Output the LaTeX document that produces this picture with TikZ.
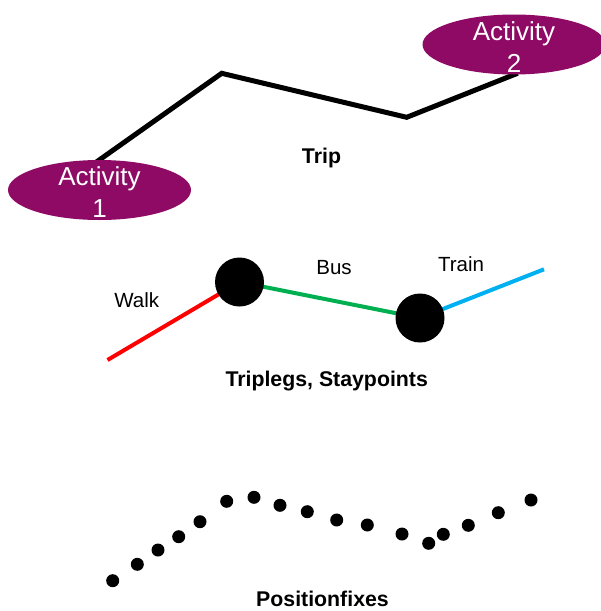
\documentclass[tikz,border=0pt]{standalone}
\usepackage{fontspec}
\setmainfont{Liberation Sans}
\usetikzlibrary{shapes.geometric,backgrounds}

\definecolor{plum}{RGB}{142,10,100}
\definecolor{walkred}{RGB}{255,0,0}
\definecolor{busgreen}{RGB}{0,176,80}
\definecolor{trainblue}{RGB}{0,176,240}

\tikzset{
  activity/.style={ellipse, fill=plum, minimum width=183pt, minimum height=60pt, inner sep=0pt},
  acttext/.style={text=white, align=center, font=\fontsize{26}{31.5}\selectfont, inner sep=0pt},
  tripline/.style={line width=5pt, line join=miter},
  leg/.style={line width=4pt},
  staypoint/.style={circle, fill=black, minimum size=49pt, inner sep=0pt},
  fix/.style={circle, fill=black, minimum size=13pt, inner sep=0pt},
  caption/.style={font=\fontsize{21.3}{25}\selectfont\bfseries, anchor=base, inner sep=0pt},
  modelabel/.style={font=\fontsize{20.5}{24}\selectfont, anchor=base, inner sep=0pt},
}

\begin{document}
\begin{tikzpicture}[x=1pt, y=-1pt]
  \useasboundingbox (0,0) rectangle (601,611);

  % --- Trip: two activities joined by a polyline
  \node[activity] (a1) at (99.5,190) {};
  \node[acttext] (a1t) at (99.5,192) {Activity\\1};
  \node[activity] (a2) at (514,44.5) {};
  \node[acttext] (a2t) at (514,46.9) {Activity\\2};
  \coordinate (t1) at (221.7,73.3);
  \coordinate (t2) at (406.7,117.3);
  \begin{pgfonlayer}{background}
    \draw[tripline, shorten <=-4pt, shorten >=-4pt] (a1.north) -- (t1) -- (t2) -- (a2.south);
  \end{pgfonlayer}
  \node[caption] (trip) at (321.5,163.5) {Trip};

  % --- Triplegs and staypoints
  \node[staypoint] (s1) at (239.5,282) {};
  \node[staypoint] (s2) at (420,318) {};
  \coordinate (w0) at (107.5,360);
  \coordinate (r1) at (544,269.3);
  \begin{pgfonlayer}{background}
    \draw[leg, walkred] (w0) -- (s1.center);
    \draw[leg, busgreen] (s1.center) -- (s2.center);
    \draw[leg, trainblue] (s2.center) -- (r1);
  \end{pgfonlayer}
  \node[modelabel] (walk) at (136.7,307.3) {Walk};
  \node[modelabel] (bus) at (334,274.3) {Bus};
  \node[modelabel] (train) at (461,271.7) {Train};
  \node[caption] (legs) at (326.7,386.5) {Triplegs, Staypoints};

  % --- Raw position fixes
  \foreach \px/\py [count=\i] in {112.7/580.7, 137.3/564.3, 158/550, 178.7/536.7,
      200/521.7, 226.7/501.3, 254/497.3, 280/505.3, 307.3/511.7, 336.7/520,
      367.3/525, 402/534, 428.7/543.3, 443.3/534.3, 468.3/525.3, 498.3/512.7, 531/500}
    \node[fix] (p\i) at (\px,\py) {};
  \node[caption] (pf) at (322.5,606) {Positionfixes};
\end{tikzpicture}
\end{document}
